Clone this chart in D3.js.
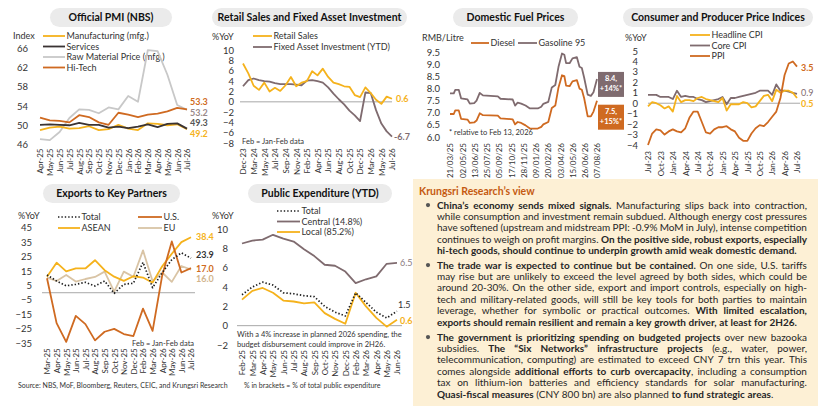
<!DOCTYPE html>
<html>
<head>
<meta charset="utf-8">
<script src="https://cdn.jsdelivr.net/npm/d3@7"></script>
<style>
	body { margin: 0; background: #fff; }
	svg { display: block; }
</style>
</head>
<body>
<svg id="chart" width="840" height="420"></svg>
<script>
// ---------- data ----------
// Official PMI (NBS)
var pmiMonths = ["Apr-25","May-25","Jun-25","Jul-25","Aug-25","Sep-25","Oct-25","Nov-25","Dec-25","Jan-26","Feb-26","Mar-26","Apr-26","May-26","Jun-26","Jul-26"];
var pmiManufacturing = [49.0,49.5,49.7,49.3,49.4,49.8,49.0,49.2,50.1,49.3,49.0,50.4,50.3,50.0,50.2,49.2];
var pmiServices = [50.1,50.2,50.1,50.0,50.5,50.1,50.1,49.5,49.7,49.4,49.7,50.2,49.6,50.3,50.4,49.3];
var pmiRawMaterial = [47.1,46.9,48.6,51.5,53.3,53.2,52.5,53.7,53.3,56.1,54.9,65.6,65.4,60.5,54.2,53.2];
var pmiHiTech = [51.6,51.0,50.9,50.6,52.1,51.7,50.6,50.1,52.6,52.2,51.7,52.2,52.4,52.9,53.6,53.3];

// Retail sales and fixed asset investment (Feb = Jan-Feb data)
var rsMonths = ["Dec-23","Feb-24","Mar-24","Apr-24","May-24","Jun-24","Jul-24","Aug-24","Sep-24","Oct-24","Nov-24","Dec-24",
	"Feb-25","Mar-25","Apr-25","May-25","Jun-25","Jul-25","Aug-25","Sep-25","Oct-25","Nov-25","Dec-25",
	"Feb-26","Mar-26","Apr-26","May-26","Jun-26","Jul-26"];
var retailSales = [7.4,5.5,3.1,2.3,3.7,2.0,2.7,2.1,3.2,4.8,3.0,3.7,4.0,5.9,5.1,6.4,4.8,3.7,3.4,3.0,2.9,1.3,0.9,2.8,1.7,0.4,-0.4,1.0,0.6];
var fixedAsset = [3.0,4.2,4.5,4.2,4.0,3.9,3.6,3.4,3.4,3.4,3.3,3.2,4.1,4.2,4.0,3.7,2.8,1.6,0.5,-0.5,-1.7,-2.6,-3.7,1.8,1.7,-1.6,-4.2,-5.7,-6.7];

// Domestic fuel prices (RMB/litre)
var fuelDates = ["2025-03-21","2025-04-03","2025-04-08","2025-04-20","2025-04-28","2025-05-20","2025-05-28","2025-06-12","2025-06-20",
	"2025-07-01","2025-07-12","2025-09-01","2025-09-10","2025-10-22","2025-10-30","2025-11-08","2025-11-20","2025-12-05","2025-12-20",
	"2026-01-16","2026-01-28","2026-02-04","2026-02-21","2026-03-05","2026-03-17","2026-03-28","2026-04-09","2026-04-17","2026-04-23",
	"2026-05-05","2026-05-15","2026-05-30","2026-06-08","2026-06-16","2026-06-24","2026-07-06","2026-07-17","2026-07-26","2026-08-07"];
var gasoline95 = [7.80,7.80,7.95,7.95,7.60,7.55,7.38,7.40,7.50,7.82,7.72,7.68,7.58,7.55,7.30,7.42,7.38,7.30,7.18,
	7.18,7.25,7.37,7.45,8.05,8.15,8.90,9.45,9.40,9.05,9.05,9.25,9.30,8.90,8.85,8.45,7.75,7.70,7.85,8.40];
var diesel = [6.95,6.95,7.10,7.10,6.75,6.72,6.58,6.60,6.68,6.98,6.90,6.88,6.77,6.73,6.52,6.62,6.58,6.48,6.35,
	6.35,6.42,6.52,6.62,7.20,7.30,8.05,8.55,8.52,8.12,8.10,8.30,8.35,8.00,7.95,7.60,6.85,6.85,7.05,7.50];
var fuelTicks = ["2025-03-21","2025-05-02","2025-06-13","2025-07-25","2025-09-05","2025-10-17","2025-11-28","2026-01-09","2026-02-20","2026-04-03","2026-05-15","2026-06-26","2026-08-07"];

// Consumer and producer price indices (%YoY)
var cpiMonths = ["Jul-23","Aug-23","Sep-23","Oct-23","Nov-23","Dec-23",
	"Jan-24","Feb-24","Mar-24","Apr-24","May-24","Jun-24","Jul-24","Aug-24","Sep-24","Oct-24","Nov-24","Dec-24",
	"Jan-25","Feb-25","Mar-25","Apr-25","May-25","Jun-25","Jul-25","Aug-25","Sep-25","Oct-25","Nov-25","Dec-25",
	"Jan-26","Feb-26","Mar-26","Apr-26","May-26","Jun-26","Jul-26"];
var headlineCPI = [-0.3,0.1,0.0,-0.2,-0.5,-0.3, -0.8,0.7,0.1,0.3,0.3,0.2,0.5,0.6,0.4,0.3,0.2,0.1,
	0.5,-0.7,-0.1,-0.1,-0.1,0.1,0.0,-0.4,-0.3,0.2,0.7,0.8, 0.2,1.3,1.0,1.2,1.2,1.0,0.5];
var coreCPI = [0.8,0.8,0.8,0.6,0.6,0.6, 0.4,1.2,0.6,0.7,0.6,0.6,0.4,0.3,0.1,0.2,0.3,0.4,
	0.6,-0.1,0.5,0.5,0.6,0.7,0.8,0.9,1.0,1.2,1.2,1.2, 0.8,1.8,1.2,1.2,1.1,1.0,0.9];
var ppi = [-4.0,-2.9,-2.5,-2.6,-3.0,-2.7, -2.5,-2.7,-2.8,-2.4,-1.4,-0.8,-0.8,-1.8,-2.8,-2.9,-2.5,-2.3,
	-2.3,-2.2,-2.5,-2.7,-3.3,-3.6,-3.6,-2.9,-2.4,-2.1,-2.2,-1.8, -1.3,-0.8,0.5,2.7,3.8,4.0,3.5];

// Exports to key partners (%YoY, Feb = Jan-Feb data)
var exportMonths = ["Mar-25","Apr-25","May-25","Jun-25","Jul-25","Aug-25","Sep-25","Oct-25","Nov-25","Dec-25","Feb-26","Mar-26","Apr-26","May-26","Jun-26","Jul-26"];
var exportTotal = [12.3,8.1,4.8,5.8,7.2,4.7,8.1,-0.4,5.8,6.6,21.0,3.5,13.8,22.9,27.6,23.9];
var exportUS = [10.0,-21.0,-34.0,-16.0,-21.7,-33.0,-27.0,-25.0,-28.6,-30.0,-11.0,-26.4,12.0,35.5,14.0,17.0];
var exportASEAN = [11.0,20.8,14.8,16.9,16.8,22.5,15.6,11.1,8.2,11.4,10.5,7.0,18.3,27.0,35.0,38.4];
var exportEU = [10.5,8.1,12.3,7.7,9.5,10.9,14.6,0.8,14.6,11.1,29.3,8.0,14.0,7.5,18.5,16.0];

// Public expenditure (YTD, %YoY)
var pubMonths = ["Feb-25","Mar-25","Apr-25","May-25","Jun-25","Jul-25","Aug-25","Sep-25","Oct-25","Nov-25","Dec-25","Feb-26","Mar-26","Apr-26","May-26","Jun-26"];
var pubTotal = [3.2,4.0,4.5,4.2,3.4,3.3,3.1,3.0,2.0,1.4,1.0,3.4,2.4,1.4,0.8,1.5];
var pubCentral = [8.5,8.8,8.9,9.4,9.0,8.7,7.9,7.2,6.3,6.2,5.6,4.4,4.8,5.1,6.4,6.5];
var pubLocal = [2.7,3.6,3.9,3.4,2.6,2.5,2.3,2.4,1.3,0.7,0.2,3.4,2.0,0.8,-0.1,0.6];

// Krungsri Research's view (one entry per printed line, [text, bold])
var viewParagraphs = [
	[
		[["China\u2019s economy sends mixed signals.",1],[" Manufacturing slips back into contraction,",0]],
		[["while consumption and investment remain subdued. Although energy cost pressures",0]],
		[["have softened (upstream and midstream PPI: -0.9% MoM in July), intense competition",0]],
		[["continues to weigh on profit margins. ",0],["On the positive side, robust exports, especially",1]],
		[["hi-tech goods, should continue to underpin growth amid weak domestic demand.",1]]
	],
	[
		[["The trade war is expected to continue but be contained.",1],[" On one side, U.S. tariffs",0]],
		[["may rise but are unlikely to exceed the level agreed by both sides, which could be",0]],
		[["around 20-30%. On the other side, export and import controls, especially on high-",0]],
		[["tech and military-related goods, will still be key tools for both parties to maintain",0]],
		[["leverage, whether for symbolic or practical outcomes. ",0],["With limited escalation,",1]],
		[["exports should remain resilient and remain a key growth driver, at least for 2H26.",1]]
	],
	[
		[["The government is prioritizing spending on budgeted projects",1],[" over new bazooka",0]],
		[["subsidies. ",0],["The \u201CSix Networks\u201D infrastructure projects",1],[" (e.g., water, power,",0]],
		[["telecommunication, computing) are estimated to exceed CNY 7 trn this year. This",0]],
		[["comes alongside ",0],["additional efforts to curb overcapacity",1],[", including a consumption",0]],
		[["tax on lithium-ion batteries and efficiency standards for solar manufacturing.",0]],
		[["Quasi-fiscal measures",1],[" (CNY 800 bn) are also planned ",0],["to fund strategic areas",1],[".",0]]
	]
];

// ---------- drawing ----------
var FONT = "Lato, 'Open Sans', 'Liberation Sans', sans-serif";
var col = {
	yellow: "#F5B21C",
	dark: "#3A3333",
	light: "#C8C8C8",
	orange: "#CF6A21",
	mauve: "#7F6B6F",
	beige: "#D9C4A5",
	black: "#1E1E1E",
	zero: "#A8A8A8",
	text: "#262626"
};

var svg = d3.select("#chart").attr("font-family", FONT);
svg.append("rect").attr("width", 840).attr("height", 420).attr("fill", "#fff");

var parseDate = d3.timeParse("%Y-%m-%d");

function pill(cx, cy, w, label) {
	svg.append("rect")
	.attr("x", cx - w / 2).attr("y", cy - 9.5)
	.attr("width", w).attr("height", 19)
	.attr("rx", 9.5)
	.attr("fill", "#EBEBEB");
	svg.append("text")
	.attr("x", cx).attr("y", cy).attr("dy", "0.35em")
	.attr("text-anchor", "middle")
	.attr("font-size", 10.5).attr("font-weight", "bold")
	.attr("fill", "#111")
	.text(label);
}

function yAxis(y, xPos, ticks, fmt) {
	var g = svg.append("g")
	.attr("transform", "translate(" + xPos + ",0)")
	.call(d3.axisLeft(y).tickValues(ticks).tickSize(0).tickPadding(0).tickFormat(fmt || d3.format("d")));
	g.attr("font-family", FONT);
	g.select(".domain").remove();
	g.selectAll("text").attr("font-size", 9.5).attr("fill", "#333");
}

function xAxis(x, yPos, ticks, fmt, pad) {
	var g = svg.append("g")
	.attr("transform", "translate(0," + yPos + ")")
	.call(d3.axisBottom(x).tickValues(ticks).tickSize(0).tickFormat(fmt || null));
	g.attr("font-family", FONT);
	g.select(".domain").remove();
	g.selectAll("text")
	.attr("font-size", 8).attr("fill", "#333")
	.attr("transform", "rotate(-90)")
	.attr("x", -pad).attr("y", 0).attr("dy", "0.35em")
	.style("text-anchor", "end");
}

function zeroLine(x1, x2, yy) {
	svg.append("line")
	.attr("x1", x1).attr("x2", x2).attr("y1", yy).attr("y2", yy)
	.attr("stroke", col.zero).attr("stroke-width", 1);
}

function plot(xs, vals, x, y, color, w, dash) {
	var line = d3.line()
	.x(function(d, i) { return x(xs[i]); })
	.y(function(d) { return y(d); });
	svg.append("path")
	.datum(vals)
	.attr("d", line)
	.attr("fill", "none")
	.attr("stroke", color)
	.attr("stroke-width", w || 1.8)
	.attr("stroke-linejoin", "round")
	.attr("stroke-dasharray", dash || null);
}

function legendItem(x1, x2, yy, color, label, dash) {
	svg.append("line")
	.attr("x1", x1).attr("x2", x2).attr("y1", yy).attr("y2", yy)
	.attr("stroke", color).attr("stroke-width", dash ? 1.7 : 1.8)
	.attr("stroke-dasharray", dash || null);
	svg.append("text")
	.attr("x", x2 + 1.5).attr("y", yy).attr("dy", "0.35em")
	.attr("font-size", 9).attr("fill", "#333")
	.text(label);
}

function note(xx, yy, txt, size, anchor) {
	svg.append("text")
	.attr("x", xx).attr("y", yy).attr("dy", "0.35em")
	.attr("font-size", size || 9).attr("fill", "#333")
	.attr("text-anchor", anchor || "start")
	.text(txt);
}

function endLabel(xx, yy, txt, color, bold) {
	svg.append("text")
	.attr("x", xx).attr("y", yy).attr("dy", "0.35em")
	.attr("font-size", 9)
	.attr("font-weight", bold === false ? null : "bold")
	.attr("fill", color)
	.text(txt);
}

var DOT = "1.4,2";

// ===== Official PMI (NBS) =====
pill(111, 17.5, 122, "Official PMI (NBS)");
var xP = d3.scalePoint().domain(pmiMonths).range([40, 187]);
var yP = d3.scaleLinear().domain([46, 66]).range([144.5, 48.3]);
yAxis(yP, 28, [46, 50, 54, 58, 62, 66]);
xAxis(xP, yP(46), pmiMonths, null, 4);
note(13, 36, "Index");
legendItem(43, 65, 36, col.yellow, "Manufacturing (mfg.)");
legendItem(43, 65, 46.5, col.dark, "Services");
legendItem(43, 65, 57, col.light, "Raw Material Price (mfg.)");
legendItem(43, 65, 67.5, col.orange, "Hi-Tech");
plot(pmiMonths, pmiRawMaterial, xP, yP, col.light);
plot(pmiMonths, pmiManufacturing, xP, yP, col.yellow);
plot(pmiMonths, pmiServices, xP, yP, col.dark);
plot(pmiMonths, pmiHiTech, xP, yP, col.orange);
endLabel(190, 102, "53.3", col.orange);
endLabel(190, 113, "53.2", "#9A8A8A");
endLabel(190, 123, "49.3", "#555");
endLabel(190, 134, "49.2", col.yellow);

// ===== Retail Sales and Fixed Asset Investment =====
pill(309.5, 17.5, 195, "Retail Sales and Fixed Asset Investment");
var xR = d3.scalePoint().domain(rsMonths).range([243, 392]);
var yR = d3.scaleLinear().domain([-8, 10]).range([143.3, 50]);
yAxis(yR, 234, d3.range(-8, 11, 2));
xAxis(xR, yR(-8), rsMonths.filter(function(d, i) { return i % 2 == 0; }), null, 5);
note(212, 37, "%YoY");
zeroLine(240, 392, yR(0));
legendItem(253, 272, 36, col.yellow, "Retail Sales");
legendItem(253, 272, 47, col.mauve, "Fixed Asset Investment (YTD)");
plot(rsMonths, fixedAsset, xR, yR, col.mauve);
plot(rsMonths, retailSales, xR, yR, col.yellow);
note(242, 141.5, "Feb = Jan-Feb data", 7.5);
endLabel(396, 99, "0.6", col.yellow);
endLabel(394, 137, "-6.7", col.mauve);

// ===== Domestic Fuel Prices =====
pill(515.5, 17.5, 125, "Domestic Fuel Prices");
var fuelX = fuelDates.map(parseDate);
var xF = d3.scaleTime().domain([parseDate("2025-03-21"), parseDate("2026-08-07")]).range([450, 597]);
var yF = d3.scaleLinear().domain([6, 9.5]).range([137, 52.3]);
yAxis(yF, 440, d3.range(6, 9.51, 0.5), d3.format(".1f"));
xAxis(xF, yF(6), fuelTicks.map(parseDate), d3.timeFormat("%d/%m/%y"), 6);
note(422, 38, "RMB/Litre");
legendItem(471, 489, 43, col.orange, "Diesel");
legendItem(518, 537, 43, col.mauve, "Gasoline 95");
plot(fuelX, gasoline95, xF, yF, col.mauve);
plot(fuelX, diesel, xF, yF, col.orange);
note(449, 132, "* relative to Feb 13, 2026", 7.5);

function fuelBox(yTop, color, l1, l2) {
	svg.append("rect").attr("x", 598).attr("y", yTop).attr("width", 26).attr("height", 25).attr("fill", color);
	svg.append("text").attr("x", 611).attr("y", yTop + 9).attr("text-anchor", "middle")
	.attr("font-size", 7.5).attr("font-weight", "bold").attr("fill", "#fff").text(l1);
	svg.append("text").attr("x", 611).attr("y", yTop + 19.5).attr("text-anchor", "middle")
	.attr("font-size", 7.5).attr("font-weight", "bold").attr("fill", "#fff").text(l2);
}
fuelBox(yF(gasoline95[gasoline95.length - 1]) - 7, col.mauve, "8.4,", "+14%*");
fuelBox(yF(diesel[diesel.length - 1]) + 4, col.orange, "7.5,", "+15%*");

// ===== Consumer and Producer Price Indices =====
pill(718, 17.5, 190, "Consumer and Producer Price Indices");
var xC = d3.scalePoint().domain(cpiMonths).range([648, 797]);
var yC = d3.scaleLinear().domain([-4, 5]).range([145, 51]);
yAxis(yC, 638, d3.range(-4, 6, 1));
xAxis(xC, yC(-4), cpiMonths.filter(function(d, i) { return i % 3 == 0; }), null, 6);
note(625, 38, "%YoY");
zeroLine(648, 800, yC(0));
legendItem(690, 710, 35, col.yellow, "Headline CPI");
legendItem(690, 710, 45.5, col.mauve, "Core CPI");
legendItem(690, 710, 56, col.orange, "PPI");
plot(cpiMonths, coreCPI, xC, yC, col.mauve);
plot(cpiMonths, headlineCPI, xC, yC, col.yellow);
plot(cpiMonths, ppi, xC, yC, col.orange);
endLabel(801, 68, "3.5", col.orange);
endLabel(801, 93, "0.9", col.mauve, false);
endLabel(801, 104, "0.5", col.yellow);

// ===== Exports to Key Partners =====
pill(111.5, 193.5, 137, "Exports to Key Partners");
var xE = d3.scalePoint().domain(exportMonths).range([47, 191]);
var yE = d3.scaleLinear().domain([-35, 45]).range([343.3, 227.7]);
yAxis(yE, 32, d3.range(-35, 46, 10));
xAxis(xE, yE(-35), exportMonths, null, 5);
note(18, 216, "%YoY");
zeroLine(42, 195, yE(0));
legendItem(58, 80, 217, col.black, "Total", DOT);
legendItem(58, 80, 228, col.yellow, "ASEAN");
legendItem(138, 162, 217, col.orange, "U.S.");
legendItem(138, 162, 228, col.beige, "EU");
plot(exportMonths, exportEU, xE, yE, col.beige);
plot(exportMonths, exportASEAN, xE, yE, col.yellow);
plot(exportMonths, exportUS, xE, yE, col.orange);
plot(exportMonths, exportTotal, xE, yE, col.black, 1.7, DOT);
note(132, 343, "Feb = Jan-Feb data", 7.5);
endLabel(196, 237, "38.4", col.yellow);
endLabel(196, 255, "23.9", "#333");
endLabel(196, 268.5, "17.0", col.orange);
endLabel(196, 279, "16.0", "#D2B48C");
note(18, 386, "Source: NBS, MoF, Bloomberg, Reuters, CEIC, and Krungsri Research", 7);

// ===== Public Expenditure (YTD) =====
pill(320, 193.5, 144, "Public Expenditure (YTD)");
var xU = d3.scalePoint().domain(pubMonths).range([242, 397]);
var yU = d3.scaleLinear().domain([-2, 10]).range([345, 229]);
yAxis(yU, 228, d3.range(-2, 11, 2));
xAxis(xU, yU(-2), pubMonths, null, 5);
note(212, 216, "%YoY");
zeroLine(237, 402, yU(0));
legendItem(277, 300, 211, col.black, "Total", DOT);
legendItem(277, 300, 221.5, col.mauve, "Central (14.8%)");
legendItem(277, 300, 232, col.yellow, "Local (85.2%)");
plot(pubMonths, pubCentral, xU, yU, col.mauve);
plot(pubMonths, pubLocal, xU, yU, col.yellow);
plot(pubMonths, pubTotal, xU, yU, col.black, 1.7, DOT);
endLabel(400, 263, "6.5", "#8C7C7F", false);
endLabel(398, 305, "1.5", "#333", false);
endLabel(400, 321, "0.6", col.yellow);
note(237, 334, "With a 4% increase in planned 2026 spending, the", 7.5);
note(237, 344, "budget disbursement could improve in 2H26.", 7.5);
note(244, 386, "% in brackets = % of total public expenditure", 7);

// ===== Krungsri Research's view =====
svg.append("rect").attr("x", 413).attr("y", 179).attr("width", 405).attr("height", 227).attr("fill", "#FDF0D5");
svg.append("text").attr("x", 419).attr("y", 191.5).attr("dy", "0.35em")
.attr("font-size", 10.5).attr("font-weight", "bold").attr("fill", "#C55A11")
.text("Krungsri Research\u2019s view");

var textX = 437, textW = 370, lineH = 11.45;
var paraStart = [208.5, 268.5, 340.5];

// measure words at 10px, then scale the whole block so every line fits
var meas = svg.append("text").attr("font-size", 10).attr("x", 0).attr("y", -50);
function wordWidth(parts) {
	meas.text(null);
	parts.forEach(function(p) {
		meas.append("tspan").attr("font-weight", p.b ? "bold" : null).text(p.t);
	});
	return meas.node().getComputedTextLength();
}
function toWords(segs) {
	var words = [], cur = [];
	segs.forEach(function(s) {
		s[0].split(/( )/).forEach(function(p) {
			if (p == " ") { if (cur.length) { words.push(cur); cur = []; } }
			else if (p) cur.push({ t: p, b: s[1] });
		});
	});
	if (cur.length) words.push(cur);
	return words.map(function(w) { return { parts: w, w: wordWidth(w) }; });
}
var spaceW = wordWidth([{ t: "a b", b: 0 }]) - wordWidth([{ t: "ab", b: 0 }]);

var lines = [];
var worst = 0;
viewParagraphs.forEach(function(para, pi) {
	para.forEach(function(segs, li) {
		var words = toWords(segs);
		var sum = d3.sum(words, function(d) { return d.w; });
		worst = Math.max(worst, (sum + (words.length - 1) * spaceW * 0.85) / textW);
		lines.push({ words: words, sum: sum, last: li == para.length - 1, y: paraStart[pi] + li * lineH, first: li == 0 });
	});
});
meas.remove();
var k = worst > 1 ? 1 / worst : 1;

lines.forEach(function(ln) {
	if (ln.first) {
		svg.append("circle").attr("cx", 428).attr("cy", ln.y - 3.4).attr("r", 2.1).attr("fill", "#555");
	}
	var gap = ln.last ? spaceW * k : (textW - ln.sum * k) / (ln.words.length - 1);
	var xx = textX;
	ln.words.forEach(function(w) {
		var t = svg.append("text").attr("x", xx).attr("y", ln.y)
		.attr("font-size", 10 * k).attr("fill", col.text);
		w.parts.forEach(function(p) {
			t.append("tspan").attr("font-weight", p.b ? "bold" : null).text(p.t);
		});
		xx += w.w * k + gap;
	});
});
</script>
</body>
</html>
